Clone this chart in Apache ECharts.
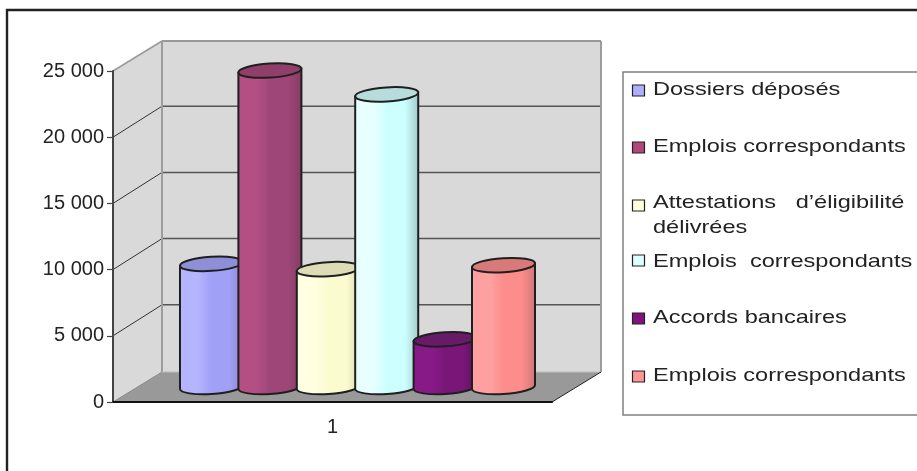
<!DOCTYPE html>
<html>
<head>
<meta charset="utf-8">
<style>html,body{margin:0;padding:0;background:#fff}#chart{width:917px;height:471px}</style>
<script src="https://cdn.jsdelivr.net/npm/echarts@6/dist/echarts.min.js"></script>
</head>
<body>
<div id="chart"></div>
<script>
// Values per series, one category
const categories = ['1'];
const seriesNames = ['Dossiers déposés', 'Emplois correspondants', 'Attestations   d’éligibilité\ndélivrées', 'Emplois  correspondants', 'Accords bancaires', 'Emplois correspondants'];
const seriesValues = [9300, 23900, 8900, 22100, 3600, 9200];
const yTicks = [5000, 10000, 15000, 20000, 25000];

// Cylinder shading: left highlight, body, right shadow, top cap
const lightColors = ['#b4b4ff', '#b44f84', '#ffffe2', '#e8ffff', '#881a88', '#ffa0a0'];
const bodyColors = ['#a0a0f6', '#9e4678', '#fbfbd0', '#ccffff', '#7a1678', '#fd8c8c'];
const darkColors = ['#8686c8', '#843c60', '#d8d8ae', '#a2c8c8', '#581058', '#cf7676'];
const capColors = ['#8f8fd8', '#8f3f69', '#dcdcb6', '#b6dcdc', '#661a68', '#d97a7a'];
const swatchColors = ['#aeaeff', '#b0487c', '#ffffdc', '#dcffff', '#80147e', '#ff9696'];

// Plot projection constants
const DEPTH_X = 49, DEPTH_Y = -30, WALL_LIFT = 1;
const BAR_STEP = 58.4, BAR_WIDTH = 63, CAP_RY = 7, CAP_TILT = 2;

function renderScene(params, api) {
  const x0 = api.coord([0, 0])[0] - 219.5;
  const x1 = x0 + 439;
  const y0 = api.coord([0, 0])[1];
  const yTop = api.coord([0, 25000])[1];
  const line = (a, b, c, d, stroke, w) => ({
    type: 'line', shape: { x1: a, y1: b, x2: c, y2: d }, style: { stroke, lineWidth: w }
  });
  const poly = (pts, fill) => ({ type: 'polygon', shape: { points: pts }, style: { fill } });
  const children = [
    poly([[x0, y0], [x0 + DEPTH_X, y0 + DEPTH_Y], [x0 + DEPTH_X, yTop + DEPTH_Y], [x0, yTop]], '#d9d9d9'),
    poly([[x0 + DEPTH_X, y0 + DEPTH_Y], [x1 + DEPTH_X, y0 + DEPTH_Y], [x1 + DEPTH_X, yTop + DEPTH_Y], [x0 + DEPTH_X, yTop + DEPTH_Y]], '#d9d9d9'),
    poly([[x0, y0], [x1, y0], [x1 + DEPTH_X, y0 + DEPTH_Y], [x0 + DEPTH_X, y0 + DEPTH_Y]], '#999999')
  ];
  yTicks.forEach(t => {
    const y = api.coord([0, t])[1];
    const top = t === 25000;
    const yBack = y + DEPTH_Y - (top ? 0 : WALL_LIFT);
    children.push(line(x0, y, x0 + DEPTH_X, yBack, top ? '#999999' : '#333333', top ? 1.5 : 1));
    children.push(line(x0 + DEPTH_X, yBack, x1 + DEPTH_X, yBack, top ? '#999999' : '#555555', top ? 2 : 1.5));
  });
  children.push(line(x0 + DEPTH_X, y0 + DEPTH_Y, x0 + DEPTH_X, yTop + DEPTH_Y, '#9c9c9c', 2));
  children.push(line(x1 + DEPTH_X, y0 + DEPTH_Y, x1 + DEPTH_X, yTop + DEPTH_Y, '#9c9c9c', 2));
  children.push(line(x0 + DEPTH_X, y0 + DEPTH_Y, x1 + DEPTH_X, y0 + DEPTH_Y, '#bdbdbd', 1));
  children.push(line(x0, y0, x0 + DEPTH_X, y0 + DEPTH_Y, '#8a8a8a', 1));
  children.push(line(x1, y0, x1 + DEPTH_X, y0 + DEPTH_Y, '#222222', 1));
  return { type: 'group', children };
}

function renderCylinder(i) {
  return function (params, api) {
    const base = api.coord([0, 0]);
    const top = api.coord([0, api.value(1)]);
    const cx = base[0] + DEPTH_X / 2 + 0.5 + (i - 2.5) * BAR_STEP;
    const by = base[1] + DEPTH_Y / 2;
    const ty = top[1] + DEPTH_Y / 2;
    const l = cx - BAR_WIDTH / 2, r = cx + BAR_WIDTH / 2, rx = BAR_WIDTH / 2;
    const rot = -Math.atan2(2 * CAP_TILT, BAR_WIDTH) * 180 / Math.PI;
    const arc = `${rx} ${CAP_RY} ${rot} 0 0`;
    const body = `M${l} ${ty + CAP_TILT}L${l} ${by + CAP_TILT}A${arc} ${r} ${by - CAP_TILT}L${r} ${ty - CAP_TILT}Z`;
    const cap = `M${l} ${ty + CAP_TILT}A${arc} ${r} ${ty - CAP_TILT}A${arc} ${l} ${ty + CAP_TILT}Z`;
    const fill = {
      type: 'linear', x: 0, y: 0, x2: 1, y2: 0,
      colorStops: [
        { offset: 0, color: lightColors[i] },
        { offset: 0.3, color: lightColors[i] },
        { offset: 0.5, color: bodyColors[i] },
        { offset: 0.78, color: bodyColors[i] },
        { offset: 1, color: darkColors[i] }
      ]
    };
    const edge = { stroke: '#1f1f1f', lineWidth: 2 };
    return {
      type: 'group',
      children: [
        { type: 'path', shape: { pathData: body }, style: Object.assign({ fill }, edge) },
        { type: 'path', shape: { pathData: cap }, style: Object.assign({ fill: capColors[i] }, edge) }
      ]
    };
  };
}

// Legend rows: text top, swatch top
const legendTextTop = [77, 134, 190, 249, 305, 363];
const legendSwatchTop = [85, 142, 200, 255, 313, 371];

const legendGraphics = [
  { type: 'rect', shape: { x: 623, y: 72, width: 310, height: 343 }, style: { fill: '#fff', stroke: '#808080', lineWidth: 1.5 } }
];
seriesNames.forEach((name, i) => {
  legendGraphics.push({
    type: 'rect', shape: { x: 632.5, y: legendSwatchTop[i], width: 12, height: 11 },
    style: { fill: swatchColors[i], stroke: '#222', lineWidth: 1.2 }
  });
  legendGraphics.push({
    type: 'text', x: 653, y: legendTextTop[i], scaleX: 1.24,
    style: {
      text: name, fill: '#222222', font: '19px "Liberation Sans", Arial, sans-serif',
      lineHeight: 25, verticalAlign: 'top', align: 'left'
    }
  });
});

const chart = echarts.init(document.getElementById('chart'));
chart.setOption({
  animation: false,
  grid: { left: 113, right: 365, top: 71, bottom: 69 },
  xAxis: {
    type: 'category', data: categories, z: 5,
    axisLine: { lineStyle: { color: '#111', width: 2 } },
    axisTick: { length: 7, lineStyle: { color: '#808080', width: 1.5 } },
    axisLabel: { fontFamily: '"Liberation Sans", Arial, sans-serif', fontSize: 20, color: '#222', margin: 15 }
  },
  yAxis: {
    type: 'value', min: 0, max: 25000, interval: 5000, z: 5,
    axisLine: { show: true, lineStyle: { color: '#444', width: 2 } },
    axisTick: { show: true, length: 6, lineStyle: { color: '#444', width: 1.2 } },
    splitLine: { show: false },
    axisLabel: {
      fontFamily: '"Liberation Sans", Arial, sans-serif', fontSize: 20, color: '#222', margin: 9,
      formatter: v => String(v).replace(/\B(?=(\d{3})+$)/g, ' ')
    }
  },
  graphic: [
    { type: 'polyline', shape: { points: [[7, 471], [7, 10], [917, 10]] }, style: { stroke: '#222', lineWidth: 2.4, fill: null } },
    { type: 'group', children: legendGraphics }
  ],
  series: [
    { type: 'custom', name: 'plan', data: [[0, 0]], renderItem: renderScene, clip: false, silent: true }
  ].concat(seriesNames.map((name, i) => ({
    type: 'custom', name, data: [[0, seriesValues[i]]], renderItem: renderCylinder(i),
    clip: false, encode: { x: 0, y: 1 }
  })))
});
</script>
</body>
</html>
